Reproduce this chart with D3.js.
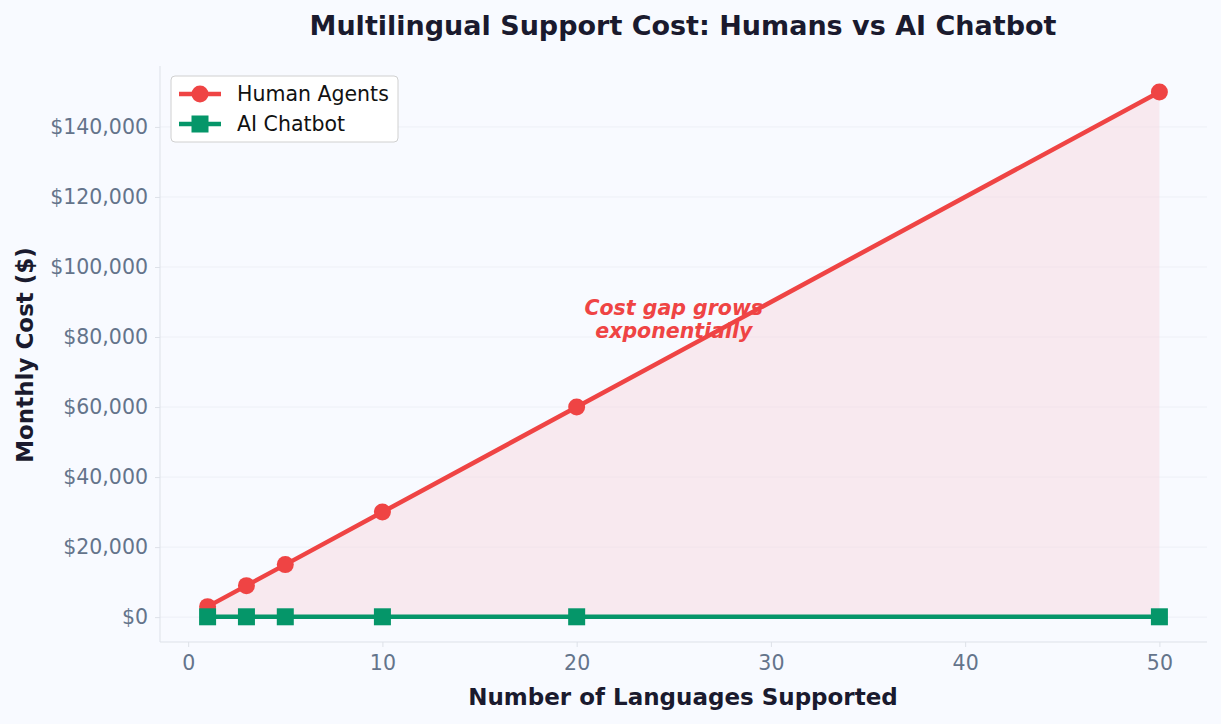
<!DOCTYPE html>
<html><head><meta charset="utf-8">
<script src="https://cdn.jsdelivr.net/npm/d3@7"></script>
<style>body{margin:0;background:#f8faff;font-family:"DejaVu Sans",sans-serif}</style>
</head><body><svg id="c" width="1221" height="724"></svg>
<script>
var languages = [1, 3, 5, 10, 20, 50];
var humanCost = [3000, 9000, 15000, 30000, 60000, 150000];
var aiCost = [100, 100, 100, 100, 100, 100];
var yTicks = [0, 20000, 40000, 60000, 80000, 100000, 120000, 140000];
var xTicks = [0, 10, 20, 30, 40, 50];

var svg = d3.select('#c');
var L = 160, R = 1207, T = 66, B = 642;
var x = d3.scaleLinear().domain([-1.45, 52.45]).range([L, R]);
var y = d3.scaleLinear().domain([-7100, 157400]).range([B, T]);

svg.append('rect').attr('width', 1221).attr('height', 724).attr('fill', '#f8faff');

// grid
svg.append('g').selectAll('line').data(yTicks).enter().append('line')
    .attr('x1', L).attr('x2', R).attr('y1', d => y(d)).attr('y2', d => y(d))
    .attr('stroke', '#e8ebf2').attr('stroke-width', 1).attr('opacity', 0.6);

// area between
var area = d3.area().x((d, i) => x(languages[i])).y0((d, i) => y(aiCost[i])).y1(d => y(d));
svg.append('path').datum(humanCost).attr('d', area).attr('fill', '#f8d7df').attr('opacity', 0.5);

// spines
svg.append('line').attr('x1', L).attr('x2', L).attr('y1', T).attr('y2', B).attr('stroke', '#dde1e8');
svg.append('line').attr('x1', L).attr('x2', R).attr('y1', B).attr('y2', B).attr('stroke', '#dde1e8');

// axes
var xa = svg.append('g').attr('transform', 'translate(0,' + B + ')')
    .call(d3.axisBottom(x).tickValues(xTicks).tickSize(5).tickPadding(8));
var ya = svg.append('g').attr('transform', 'translate(' + L + ',0)')
    .call(d3.axisLeft(y).tickValues(yTicks).tickSize(5).tickPadding(7).tickFormat(d => '$' + d3.format(',')(d)));
[xa, ya].forEach(function (a) {
    a.select('.domain').remove();
    a.selectAll('line').attr('stroke', '#dde1e8');
    a.selectAll('text').attr('fill', '#64748b').style('font-size', '20.5px').style('font-family', 'DejaVu Sans');
});

var line = d3.line().x((d, i) => x(languages[i])).y(d => y(d));
svg.append('path').datum(humanCost).attr('d', line).attr('fill', 'none').attr('stroke', '#ef4444').attr('stroke-width', 4.5);
svg.append('path').datum(aiCost).attr('d', line).attr('fill', 'none').attr('stroke', '#059669').attr('stroke-width', 4.5);
svg.append('g').selectAll('circle').data(humanCost).enter().append('circle')
    .attr('cx', (d, i) => x(languages[i])).attr('cy', d => y(d)).attr('r', 8.5).attr('fill', '#ef4444');
svg.append('g').selectAll('rect').data(aiCost).enter().append('rect')
    .attr('x', (d, i) => x(languages[i]) - 8.5).attr('y', d => y(d) - 8.5)
    .attr('width', 17).attr('height', 17).attr('fill', '#059669');

// annotation
svg.append('text').attr('x', x(25)).attr('y', y(86200)).attr('text-anchor', 'middle')
    .attr('fill', '#ef4444').style('font-size', '20.5px').style('font-weight', 'bold').style('font-style', 'italic')
    .text('Cost gap grows');
svg.append('text').attr('x', x(25)).attr('y', y(79600)).attr('text-anchor', 'middle')
    .attr('fill', '#ef4444').style('font-size', '20.5px').style('font-weight', 'bold').style('font-style', 'italic')
    .text('exponentially');

// titles
svg.append('text').attr('x', 683).attr('y', 35).attr('text-anchor', 'middle').attr('fill', '#1a1a2e')
    .style('font-size', '27px').style('font-weight', 'bold').text('Multilingual Support Cost: Humans vs AI Chatbot');
svg.append('text').attr('x', 683).attr('y', 705).attr('text-anchor', 'middle').attr('fill', '#1a1a2e')
    .style('font-size', '23px').style('font-weight', 'bold').text('Number of Languages Supported');
svg.append('text').attr('transform', 'translate(33,355) rotate(-90)').attr('text-anchor', 'middle').attr('fill', '#1a1a2e')
    .style('font-size', '23px').style('font-weight', 'bold').text('Monthly Cost ($)');

// legend
var lg = svg.append('g').attr('transform', 'translate(171,76)');
lg.append('rect').attr('width', 227).attr('height', 66).attr('rx', 4).attr('fill', '#fff').attr('stroke', '#d0d0d0');
[['Human Agents', '#ef4444', 'c'], ['AI Chatbot', '#059669', 's']].forEach(function (s, i) {
    var yy = 18 + i * 30;
    lg.append('line').attr('x1', 8).attr('x2', 50).attr('y1', yy).attr('y2', yy).attr('stroke', s[1]).attr('stroke-width', 4.5);
    if (s[2] == 'c') lg.append('circle').attr('cx', 29).attr('cy', yy).attr('r', 8.5).attr('fill', s[1]);
    else lg.append('rect').attr('x', 20.5).attr('y', yy - 8.5).attr('width', 17).attr('height', 17).attr('fill', s[1]);
    lg.append('text').attr('x', 66).attr('y', yy + 7).attr('fill', '#111').style('font-size', '20.5px').text(s[0]);
});
</script></body></html>
